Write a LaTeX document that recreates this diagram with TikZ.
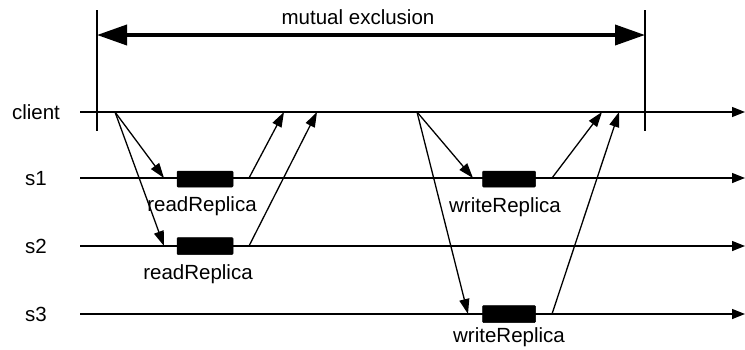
\documentclass[tikz,border=0pt]{standalone}
\usepackage{fontspec}
\setmainfont{Liberation Sans}
\usetikzlibrary{arrows.meta}
\begin{document}
\begin{tikzpicture}[x=1pt,y=-1pt,
  lbl/.style={font=\fontsize{20.5}{24}\selectfont, inner sep=0pt},
  timeline/.style={line width=1.4pt, -{Triangle[length=13pt,width=10pt]}},
  msg/.style={line width=1.3pt, -{Triangle[length=15pt,width=10pt]}},
  bar/.style={line width=2.8pt},
  work/.style={fill=black, draw=black, rounded corners=1pt, line width=0.5pt},
  span/.style={line width=3.8pt, {Triangle[length=30pt,width=20pt]}-{Triangle[length=30pt,width=20pt]}}]
\useasboundingbox (0,0) rectangle (745,349);

% process names
\node[lbl] (nc) at (36,112) {client};
\node[lbl] (n1) at (36,179) {s1};
\node[lbl] (n2) at (36,246) {s2};
\node[lbl] (n3) at (36,314) {s3};

% time lines
\coordinate (c0) at (80,112); \coordinate (c1) at (745,112);
\coordinate (a0) at (80,178); \coordinate (a1) at (745,178);
\coordinate (b0) at (80,246); \coordinate (b1) at (745,246);
\coordinate (d0) at (80,314); \coordinate (d1) at (745,314);
\draw[timeline] (c0) -- (c1);
\draw[timeline] (a0) -- (a1);
\draw[timeline] (b0) -- (b1);
\draw[timeline] (d0) -- (d1);

% critical section bounds
\coordinate (L0) at (97,10);  \coordinate (L1) at (97,131);
\coordinate (R0) at (645,10); \coordinate (R1) at (645,131);
\draw[bar] (L0) -- (L1);
\draw[bar] (R0) -- (R1);
\coordinate (sl) at (97,35); \coordinate (sr) at (645,35);
\draw[span] (sl) -- (sr);
\node[lbl] (mx) at (358,17) {mutual exclusion};

% read phase
\node[work, minimum width=56pt, minimum height=16pt, inner sep=0pt] (r1) at (205,179) {};
\node[work, minimum width=56pt, minimum height=17pt, inner sep=0pt] (r2) at (205,246) {};
\coordinate (rs) at (115,112);
\coordinate (rt1) at (164,178);
\coordinate (rt2) at (164,246);
\draw[msg] (rs) -- (rt1);
\draw[msg] (rs) -- (rt2);
\coordinate (ra1) at (249,178); \coordinate (rr1) at (284,112);
\coordinate (ra2) at (249,246); \coordinate (rr2) at (317,112);
\draw[msg] (ra1) -- (rr1);
\draw[msg] (ra2) -- (rr2);
\node[lbl] (rl1) at (202,206) {readReplica};
\node[lbl] (rl2) at (198,274) {readReplica};

% write phase
\node[work, minimum width=53pt, minimum height=16pt, inner sep=0pt] (w1) at (509,179) {};
\node[work, minimum width=53pt, minimum height=17pt, inner sep=0pt] (w3) at (509,314) {};
\coordinate (ws) at (417,112);
\coordinate (wt1) at (473,178);
\coordinate (wt3) at (468,314);
\draw[msg] (ws) -- (wt1);
\draw[msg] (ws) -- (wt3);
\coordinate (wa1) at (552,178); \coordinate (wr1) at (602,112);
\coordinate (wa3) at (552,314); \coordinate (wr3) at (619,112);
\draw[msg] (wa1) -- (wr1);
\draw[msg] (wa3) -- (wr3);
\node[lbl] (wl1) at (505,207) {writeReplica};
\node[lbl] (wl3) at (509,337) {writeReplica};
\end{tikzpicture}
\end{document}
